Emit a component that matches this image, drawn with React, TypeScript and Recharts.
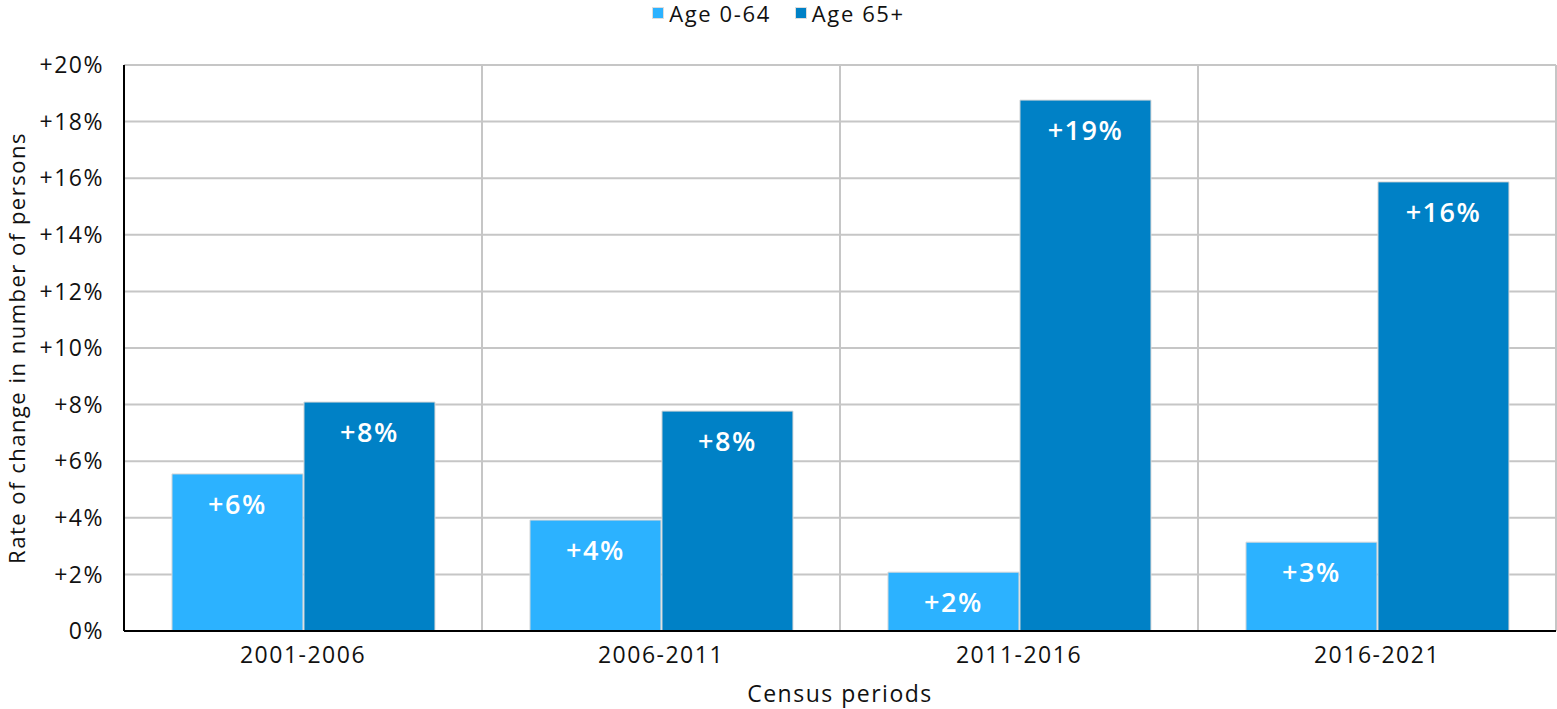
import React from 'react';
import { BarChart, Bar, XAxis, YAxis, CartesianGrid, Legend, LabelList } from 'recharts';

const periods = ['2001-2006', '2006-2011', '2011-2016', '2016-2021'];
const age0to64 = [5.55, 3.92, 2.08, 3.14];
const age65plus = [8.09, 7.77, 18.76, 15.87];
const yTicks = [0, 2, 4, 6, 8, 10, 12, 14, 16, 18, 20];
const gridTicks = [0, 1, 2, 3, 4];

const LIGHT = '#2CB2FF';
const DARK = '#0081C6';
const FONT = '"Open Sans", sans-serif';

const data = periods.map((p, i) => ({ period: p, young: age0to64[i], old: age65plus[i], gi: i + 0.5 }));

const fmtPct = (v: number) => (v === 0 ? '0%' : `+${v}%`);
const fmtLabel = (v: any) => `+${Math.round(Number(v))}%`;

const LegendContent = () => (
  <div style={{ display: 'flex', justifyContent: 'center', fontFamily: FONT, fontSize: 22, letterSpacing: 1.6, color: '#111', lineHeight: '26px', paddingTop: 0 }}>
    {[
      { name: 'Age 0-64', color: LIGHT },
      { name: 'Age 65+', color: DARK },
    ].map((it, i) => (
      <div key={it.name} style={{ display: 'flex', alignItems: 'center', marginLeft: i === 0 ? 0 : 24 }}>
        <span style={{ width: 10, height: 10, background: it.color, border: '1px solid #ddd', marginRight: 5, display: 'inline-block' }} />
        <span>{it.name}</span>
      </div>
    ))}
  </div>
);

export default function App() {
  return (
    <div style={{ position: 'absolute', left: 0, top: 0, width: 1557, height: 709, background: '#fff' }}>
      <BarChart
        width={1557}
        height={709}
        data={data}
        margin={{ top: 39, right: 1, bottom: 0, left: 0 }}
        barCategoryGap="13.4%"
        barGap={1}
      >
        <XAxis xAxisId="grid" type="number" dataKey="gi" domain={[0, 4]} ticks={gridTicks} hide />
        <CartesianGrid xAxisId="grid" stroke="#c6c6c6" strokeWidth={2} />
        <Legend
          verticalAlign="top"
          align="center"
          content={<LegendContent />}
          wrapperStyle={{ position: 'absolute', top: 0, left: 0, width: 1557, height: 26 }}
        />
        <XAxis
          dataKey="period"
          axisLine={{ stroke: '#000', strokeWidth: 2 }}
          tickLine={false}
          tickSize={0}
          tickMargin={16}
          height={78}
          tick={{ fill: '#111', fontSize: 23, fontFamily: FONT, letterSpacing: 1.5 }}
          label={{ value: 'Census periods', position: 'insideBottom', offset: 7, fill: '#111', fontSize: 23, fontFamily: FONT, letterSpacing: 1.5 }}
        />
        <YAxis
          domain={[0, 20]}
          ticks={yTicks}
          tickFormatter={fmtPct}
          width={124}
          axisLine={{ stroke: '#000', strokeWidth: 2 }}
          tickLine={false}
          tickSize={0}
          tickMargin={20}
          tick={{ fill: '#111', fontSize: 23, fontFamily: FONT, letterSpacing: 1.5 }}
          label={{
            value: 'Rate of change in number of persons',
            angle: -90,
            position: 'insideLeft',
            offset: 17,
            style: { textAnchor: 'middle', fill: '#111', fontSize: 22, fontFamily: FONT, letterSpacing: 1.5 },
          }}
        />
        <Bar dataKey="young" name="Age 0-64" fill={LIGHT} stroke="#d8d8d8" strokeWidth={1} isAnimationActive={false}>
          <LabelList dataKey="young" position="insideTop" offset={21} formatter={fmtLabel} fill="#fff" fontSize={27} fontWeight={600} fontFamily={FONT} letterSpacing={1.5} />
        </Bar>
        <Bar dataKey="old" name="Age 65+" fill={DARK} stroke="#d8d8d8" strokeWidth={1} isAnimationActive={false}>
          <LabelList dataKey="old" position="insideTop" offset={21} formatter={fmtLabel} fill="#fff" fontSize={27} fontWeight={600} fontFamily={FONT} letterSpacing={1.5} />
        </Bar>
      </BarChart>
    </div>
  );
}
